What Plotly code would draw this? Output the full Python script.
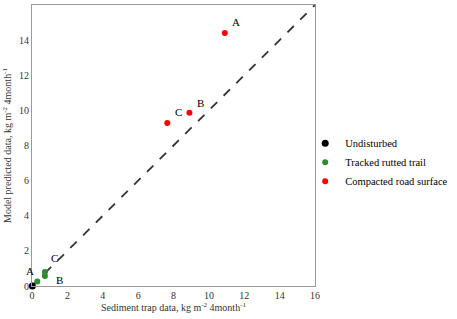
import plotly.graph_objects as go

# Data
undisturbed_x = [0.02]
undisturbed_y = [0.0]
tracked_x = [0.3, 0.73, 0.73]
tracked_y = [0.25, 0.57, 0.8]
compacted_x = [10.9, 8.9, 7.65]
compacted_y = [14.4, 9.87, 9.28]
compacted_labels = ["A", "B", "C"]
tracked_label_x = [-0.1, 1.58, 1.3]
tracked_label_y = [0.87, 0.34, 1.6]
tracked_labels = ["A", "B", "C"]
line_x = [0, 16]
line_y = [0, 16]
ticks = [0, 2, 4, 6, 8, 10, 12, 14, 16]

font = "Liberation Serif"

fig = go.Figure()
fig.add_trace(go.Scatter(x=line_x, y=line_y, mode="lines",
                         line=dict(color="#333333", width=1.8, dash="dash"),
                         showlegend=False, hoverinfo="skip"))
fig.add_trace(go.Scatter(x=undisturbed_x, y=undisturbed_y, mode="markers",
                         marker=dict(color="black", size=7), name="Undisturbed", cliponaxis=False))
fig.add_trace(go.Scatter(x=tracked_x, y=tracked_y, mode="markers",
                         marker=dict(color="#2e8b2e", size=6), name="Tracked rutted trail", cliponaxis=False))
fig.add_trace(go.Scatter(x=compacted_x, y=compacted_y, mode="markers",
                         marker=dict(color="#ff0000", size=6), name="Compacted road surface"))

# red labels
red_offsets = [(0.65, 0.62), (0.65, 0.57), (0.65, 0.6)]
for (x, y, t), (dx, dy) in zip(zip(compacted_x, compacted_y, compacted_labels), red_offsets):
    fig.add_annotation(x=x + dx, y=y + dy, text=t, showarrow=False,
                       font=dict(family=font, size=11, color="black"))
for x, y, t in zip(tracked_label_x, tracked_label_y, tracked_labels):
    fig.add_annotation(x=max(x, 0), xshift=(x - max(x, 0)) * 17.75, y=y, text=t,
                       showarrow=False, font=dict(family=font, size=11, color="black"))

axis_common = dict(range=[0, 16], tickvals=ticks, showgrid=False, zeroline=False,
                   showline=True, linecolor="#9a9a9a", linewidth=1, mirror=True,
                   ticks="", automargin=False,
                   tickfont=dict(family=font, size=10, color="#333333"))

fig.update_layout(
    width=457, height=319,
    margin=dict(l=32, r=141, t=5, b=33),
    plot_bgcolor="white", paper_bgcolor="white",
    font=dict(family=font, size=10, color="#333333"),
    xaxis=dict(**axis_common,
               title=dict(text="Sediment trap data, kg m<sup>-2</sup> 4month<sup>-1</sup>",
                          font=dict(family=font, size=10, color="#333333"), standoff=3)),
    yaxis=dict(**axis_common,
               title=dict(text="Model predicted data, kg m<sup>-2</sup> 4month<sup>-1</sup>",
                          font=dict(family=font, size=10, color="#333333"), standoff=5)),
    legend=dict(x=0.962, y=0.44, xanchor="left", yanchor="middle",
                font=dict(family=font, size=10.5, color="black"),
                itemwidth=30, tracegroupgap=0, bgcolor="rgba(0,0,0,0)"),
)

fig.write_html("out.html", config={"displayModeBar": False},
               post_script="document.body.style.margin='0';document.body.style.overflow='hidden';")
